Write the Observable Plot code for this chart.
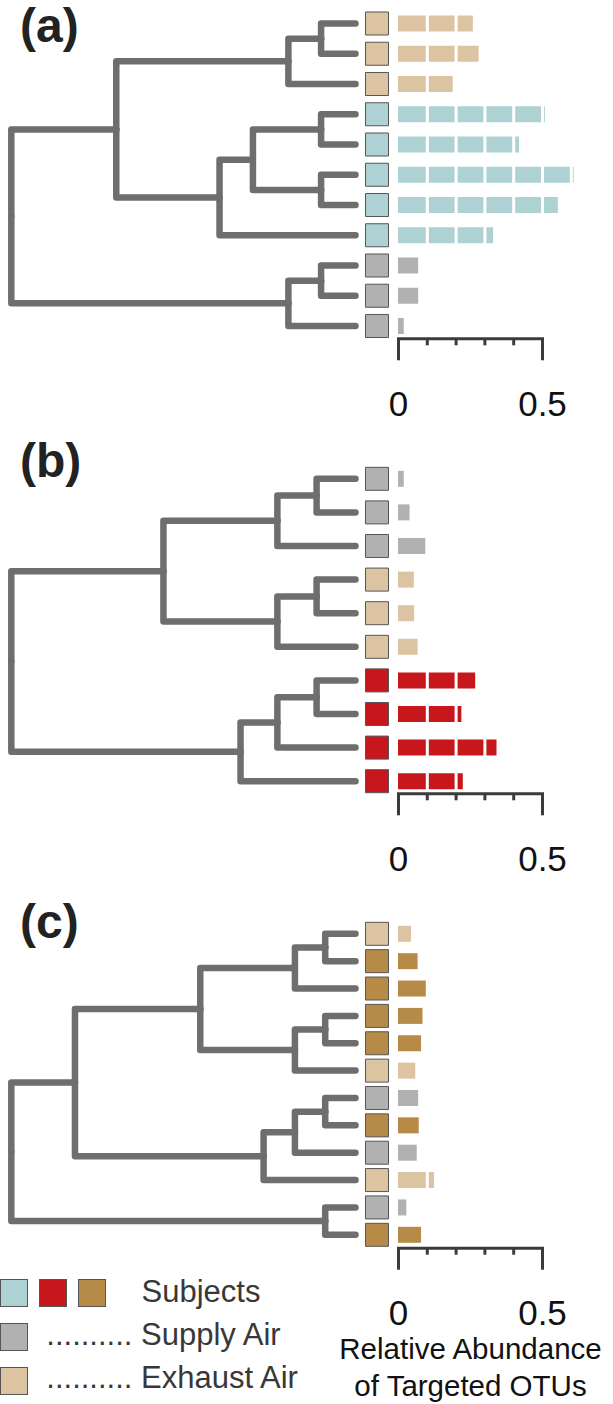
<!DOCTYPE html>
<html>
<head>
<meta charset="utf-8">
<script src="https://cdn.jsdelivr.net/npm/d3@7"></script>
<script src="https://cdn.jsdelivr.net/npm/@observablehq/plot@0.6"></script>
<style>
  body { margin: 0; background: #fff; }
  #wrap { position: relative; width: 613px; height: 1404px; overflow: hidden;
          font-family: "Liberation Sans", Arial, Helvetica, sans-serif; }
  .panel { position: absolute; left: 0; width: 613px; }
  .panel svg { position: absolute; left: 0; top: 0; }
  .plabel { position: absolute; font-weight: bold; font-size: 48px; line-height: 48px; color: #222; white-space: pre; }
  .leg-sq { position: absolute; width: 26px; height: 26px; border: 1px solid #555; }
  .leg-tx { position: absolute; font-size: 31px; line-height: 31px; color: #383838; white-space: pre; }
</style>
</head>
<body>
<div id="wrap"></div>
<script>
// ---------- shared categories / colours / ticks ----------
const categories = ["Subjects", "Supply Air", "Exhaust Air"];
const subjectColors = ["#aed2d4", "#c8161d", "#b68a47"];   // panel a, b, c
const supplyColor = "#b1b1b1";
const exhaustColor = "#dcc4a2";
const majorTicks = [0, 0.5];
const minorTicks = [0.1, 0.2, 0.3, 0.4];
const gapTicks = [0.1, 0.2, 0.3, 0.4, 0.5, 0.6];
const axisTitle = ["Relative Abundance", "of Targeted OTUs"];
const panelLabels = ["(a)", "(b)", "(c)"];
const legendLabels = ["Subjects", ".......... Supply Air", ".......... Exhaust Air"];

// ---------- panel (a) ----------
const catsA = ["Exhaust Air", "Exhaust Air", "Exhaust Air", "Subjects", "Subjects", "Subjects",
               "Subjects", "Subjects", "Supply Air", "Supply Air", "Supply Air"];
const valuesA = [0.26, 0.28, 0.19, 0.51, 0.42, 0.61, 0.555, 0.33, 0.07, 0.07, 0.02];
const mergeA = [[-1, -2], [1, -3], [-4, -5], [-6, -7], [3, 4], [5, -8], [2, 6], [-9, -10], [8, -11], [7, 9]];
const heightA = [0.1, 0.195, 0.1, 0.1, 0.298, 0.395, 0.695, 0.1, 0.195, 1];

// ---------- panel (b) ----------
const catsB = ["Supply Air", "Supply Air", "Supply Air", "Exhaust Air", "Exhaust Air", "Exhaust Air",
               "Subjects", "Subjects", "Subjects", "Subjects"];
const valuesB = [0.02, 0.04, 0.095, 0.055, 0.056, 0.068, 0.268, 0.22, 0.342, 0.225];
const mergeB = [[-1, -2], [1, -3], [-4, -5], [3, -6], [2, 4], [-7, -8], [6, -9], [7, -10], [5, 8]];
const heightB = [0.113, 0.227, 0.113, 0.227, 0.558, 0.113, 0.227, 0.334, 1];

// ---------- panel (c) ----------
const catsC = ["Exhaust Air", "Subjects", "Subjects", "Subjects", "Subjects", "Exhaust Air",
               "Supply Air", "Subjects", "Supply Air", "Exhaust Air", "Supply Air", "Subjects"];
const valuesC = [0.045, 0.068, 0.105, 0.085, 0.08, 0.06, 0.07, 0.072, 0.065, 0.125, 0.029, 0.08];
const mergeC = [[-1, -2], [1, -3], [-4, -5], [3, -6], [2, 4], [-7, -8], [6, -9], [7, -10], [5, 8], [-11, -12], [9, 10]];
const heightC = [0.088, 0.176, 0.088, 0.176, 0.451, 0.088, 0.176, 0.267, 0.815, 0.088, 1];

// ---------- layout (pixel frames for each panel) ----------
const layouts = [
  {top: 0,   height: 430, rowTop: 23,   rowBottom: 325.5, axisY: 338.3, labelTop: 2},
  {top: 430, height: 450, rowTop: 48.3, rowBottom: 350.7, axisY: 363.3, labelTop: 436.5},
  {top: 880, height: 524, rowTop: 53.3, rowBottom: 354.3, axisY: 367.7, labelTop: 897.8}
];

const FONT = '"Liberation Sans", Arial, Helvetica, sans-serif';
const svgStyle = {background: "transparent", overflow: "visible", fontFamily: FONT};

function treeLinks(merge, heights) {
  const nodes = [];
  const pos = c => c < 0 ? {h: 0, y: -c - 1} : nodes[c - 1];
  const links = [];
  merge.forEach(([a, b], k) => {
    const pa = pos(a), pb = pos(b);
    const node = {h: heights[k], y: (pa.y + pb.y) / 2};
    nodes.push(node);
    for (const [c, pc] of [[a, pa], [b, pb]]) {
      const id = k + ":" + c;
      links.push({id, h: node.h, y: node.y}, {id, h: node.h, y: pc.y}, {id, h: pc.h, y: pc.y});
    }
  });
  return links;
}

const panels = [
  {cats: catsA, values: valuesA, merge: mergeA, heights: heightA},
  {cats: catsB, values: valuesB, merge: mergeB, heights: heightB},
  {cats: catsC, values: valuesC, merge: mergeC, heights: heightC}
];

const wrap = document.getElementById("wrap");

panels.forEach((P, pi) => {
  const L = layouts[pi];
  const n = P.values.length;
  const rows = P.values.map((v, i) => ({row: i, value: v, cat: P.cats[i]}));
  const links = treeLinks(P.merge, P.heights);

  const div = document.createElement("div");
  div.className = "panel";
  div.style.top = L.top + "px";
  div.style.height = L.height + "px";
  wrap.appendChild(div);

  const yScale = {domain: [0, n - 1], range: [L.rowTop, L.rowBottom], axis: null};

  const tree = Plot.plot({
    width: 613, height: L.height, margin: 0,
    style: svgStyle,
    x: {domain: [0, 1], range: [355, 10.8], axis: null},
    y: yScale,
    marks: [
      Plot.line(links, {x: "h", y: "y", z: "id", stroke: "#6e6e6e", strokeWidth: 6.5,
                        strokeLinecap: "round", strokeLinejoin: "round"})
    ]
  });
  div.appendChild(tree);

  const marks = [
    Plot.ruleY(rows, {y: "row", x1: () => 0, x2: "value", stroke: "cat", strokeWidth: 16}),
    Plot.ruleX(gapTicks, {x: d => d, y1: () => -0.5, y2: () => n - 0.5, stroke: "white", strokeWidth: 3}),
    Plot.dot(rows, {x: () => 0, y: "row", dx: -21.5, symbol: "square", r: 12.98,
                    fill: "cat", stroke: "#555", strokeWidth: 1}),
    Plot.frame({anchor: "bottom", stroke: "#3b3b3b", strokeWidth: 3, strokeLinecap: "square"}),
    Plot.axisX({ticks: minorTicks, tickSize: 7, tickFormat: () => "", label: null,
                stroke: "#3b3b3b", strokeWidth: 3}),
    Plot.axisX({ticks: majorTicks, tickSize: 22, tickPadding: 30, tickFormat: d => String(d), label: null,
                stroke: "#3b3b3b", fill: "#111", strokeWidth: 3, fontSize: 35, fontFamily: FONT})
  ];
  if (pi === 2) {
    marks.push(Plot.text([axisTitle.join("\n")], {text: d => d, frameAnchor: "bottom", lineAnchor: "top",
      dy: 85, fontSize: 29.5, lineHeight: 1.24, fill: "#111", fontFamily: FONT}));
  }

  const bars = Plot.plot({
    width: 613, height: L.height,
    marginLeft: 398, marginRight: 71, marginTop: 0, marginBottom: L.height - L.axisY,
    style: svgStyle,
    x: {domain: [0, 0.5]},
    y: yScale,
    color: {domain: categories, range: [subjectColors[pi], supplyColor, exhaustColor]},
    marks
  });
  div.appendChild(bars);

  const lab = document.createElement("div");
  lab.className = "plabel";
  lab.textContent = panelLabels[pi];
  lab.style.left = "20px";
  lab.style.top = L.labelTop + "px";
  wrap.appendChild(lab);
});

// ---------- legend ----------
function sq(left, top, color) {
  const d = document.createElement("div");
  d.className = "leg-sq";
  d.style.left = left + "px";
  d.style.top = top + "px";
  d.style.background = color;
  wrap.appendChild(d);
}
function tx(left, top, text) {
  const d = document.createElement("div");
  d.className = "leg-tx";
  d.style.left = left + "px";
  d.style.top = top + "px";
  d.textContent = text;
  wrap.appendChild(d);
}
subjectColors.forEach((c, i) => sq([0, 39, 78][i], 1279, c));
sq(0, 1323, supplyColor);
sq(0, 1367, exhaustColor);
tx(141.5, 1275.5, legendLabels[0]);
tx(46.3, 1318.8, legendLabels[1]);
tx(46.3, 1361.8, legendLabels[2]);
</script>
</body>
</html>
